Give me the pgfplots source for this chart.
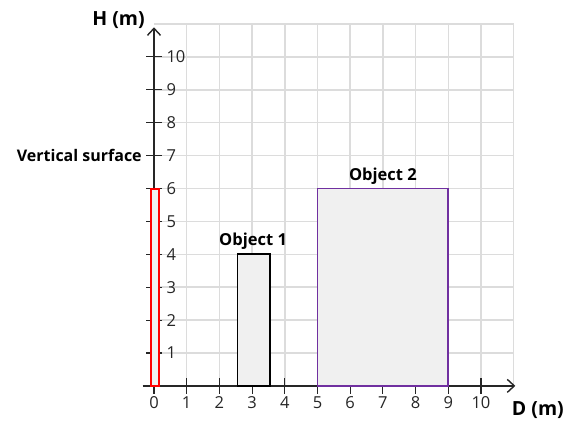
\documentclass[border=0pt]{standalone}
\usepackage{pgfplots}
\pgfplotsset{compat=1.18}
\usepackage{fontspec}
\setmainfont{Open Sans}
\usetikzlibrary{arrows.meta}
\definecolor{axiscol}{HTML}{262626}
\definecolor{gridcol}{HTML}{DCDCDC}
\definecolor{boxfill}{HTML}{F0F0F0}
\definecolor{objpurple}{HTML}{7030A0}
\begin{document}
\begin{tikzpicture}
\begin{axis}[
    set layers,
    x=32.7pt, y=32.9pt,
    xmin=-0.35, xmax=11.05, ymin=0, ymax=10.9,
    clip=false,
    axis lines=middle,
    axis line style={line width=1.4pt, color=axiscol, -{Straight Barb[length=7pt,width=13pt,line width=1.4pt]}},
    xtick={0,...,10}, ytick={1,...,10},
    hide obscured x ticks=false,
    tick align=center,
    major tick length=16pt,
    tick style={color=axiscol, line width=1.1pt},
    /pgf/number format/assume math mode=true,
    ticklabel style={font=\fontsize{16.5}{16.5}\selectfont, color=axiscol},
    yticklabel style={anchor=west, xshift=17pt},
    xticklabel style={anchor=north, yshift=1pt},
]
% invisible frame giving the picture the reference's margins
\path (axis cs:-4.71,-1.155) rectangle (axis cs:12.6,11.73);
% grid, behind everything
\begin{pgfonlayer}{axis grid}
\pgfplotsinvokeforeach{1,2,3,4,5,6,7,8,9,10,11}{
  \draw[gridcol, line width=1.4pt] (axis cs:#1,0) -- (axis cs:#1,11);
  \draw[gridcol, line width=1.4pt] (axis cs:0,#1) -- (axis cs:11,#1);
}
\end{pgfonlayer}
% vertical surface
\addplot[draw=red, line width=2pt, fill=boxfill] coordinates {(-0.1,0) (-0.1,6) (0.15,6) (0.15,0)} -- cycle;
% object 1
\addplot[draw=black, line width=1.6pt, fill=boxfill] coordinates {(2.55,0) (2.55,4) (3.55,4) (3.55,0)} -- cycle;
% object 2
\addplot[draw=objpurple, line width=1.8pt, fill=boxfill] coordinates {(5,0) (5,6) (9,6) (9,0)} -- cycle;
% labels
\node[anchor=east, inner sep=0pt, font=\bfseries\fontsize{16}{16}\selectfont] at (axis cs:-0.37,7) {Vertical surface};
\node[anchor=east, inner sep=0pt, font=\bfseries\fontsize{19.5}{19.5}\selectfont] at (axis cs:-0.28,11.12) {H (m)};
\node[inner sep=0pt, font=\bfseries\fontsize{19.5}{19.5}\selectfont] at (axis cs:11.74,-0.73) {D (m)};
\node[inner sep=0pt, font=\bfseries\fontsize{16.5}{16.5}\selectfont] at (axis cs:3.03,4.41) {Object 1};
\node[inner sep=0pt, font=\bfseries\fontsize{16.5}{16.5}\selectfont] at (axis cs:7.0,6.38) {Object 2};
\end{axis}
\end{tikzpicture}
\end{document}
